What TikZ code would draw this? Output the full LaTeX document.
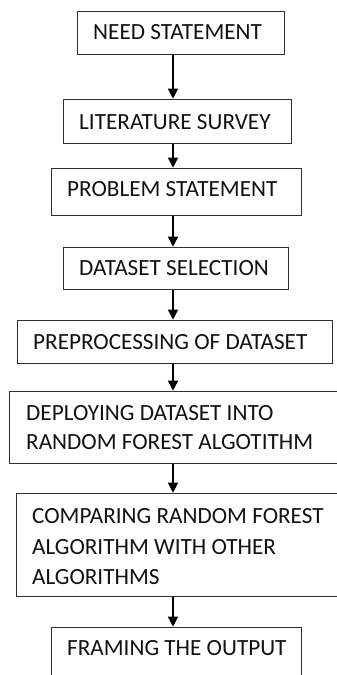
\documentclass[tikz,border=0pt]{standalone}
\usepackage{fontspec}
\setmainfont{Carlito}
\usetikzlibrary{arrows.meta}
\definecolor{boxline}{HTML}{303030}
\definecolor{txt}{HTML}{111111}
\tikzset{
  stepbox/.style={draw=boxline, line width=1.3pt, rectangle, inner sep=0pt},
  steptext/.style={anchor=north west, inner sep=0pt, align=left, text=txt,
    font=\fontsize{23.2}{30}\selectfont},
  flow/.style={draw=black, line width=1.3pt, -{Triangle[length=10pt,width=10pt]}, shorten >=0.3pt}
}
\newcommand{\mybox}[5]{%
  \node[stepbox, minimum width={#3-#1}, minimum height={#4-#2}, anchor=north west] (#5) at (#1,#2) {};}
\begin{document}
\begin{tikzpicture}[x=1pt,y=-1pt]
\useasboundingbox (0,0) rectangle (337,675);
\clip (0,0) rectangle (337,675);
\mybox{77}{11}{284}{54}{b1}
\mybox{63}{99}{291}{143}{b2}
\mybox{51}{168}{301}{215}{b3}
\mybox{63}{247}{288}{289}{b4}
\mybox{17}{320}{332}{363}{b5}
\mybox{9}{391}{350}{463}{b6}
\mybox{16}{493}{350}{596}{b7}
\mybox{51}{627}{301}{690}{b8}
\node[steptext] (t1) at (93,24.3) {NEED STATEMENT};
\node[steptext] (t2) at (79,114.3) {LITERATURE SURVEY};
\node[steptext] (t3) at (67,181.3) {PROBLEM STATEMENT};
\node[steptext] (t4) at (79,260.3) {DATASET SELECTION};
\node[steptext] (t5) at (33,334.3) {PREPROCESSING OF DATASET};
\node[steptext, font=\fontsize{23.2}{29}\selectfont] (t6) at (26,405.3) {DEPLOYING DATASET INTO\\RANDOM FOREST ALGOTITHM};
\node[steptext, font=\fontsize{23.2}{30.5}\selectfont] (t7) at (32,508.3) {COMPARING RANDOM FOREST\\ALGORITHM WITH OTHER\\ALGORITHMS};
\node[steptext] (t8) at (67,640.3) {FRAMING THE OUTPUT};
\coordinate (ax) at (173,0);
\draw[flow] (b1.south -| ax) -- (b2.north -| ax);
\draw[flow] (b2.south -| ax) -- (b3.north -| ax);
\draw[flow] (b3.south -| ax) -- (b4.north -| ax);
\draw[flow] (b4.south -| ax) -- (b5.north -| ax);
\draw[flow] (b5.south -| ax) -- (b6.north -| ax);
\draw[flow] (b6.south -| ax) -- (b7.north -| ax);
\draw[flow] (b7.south -| ax) -- (b8.north -| ax);
\end{tikzpicture}
\end{document}
